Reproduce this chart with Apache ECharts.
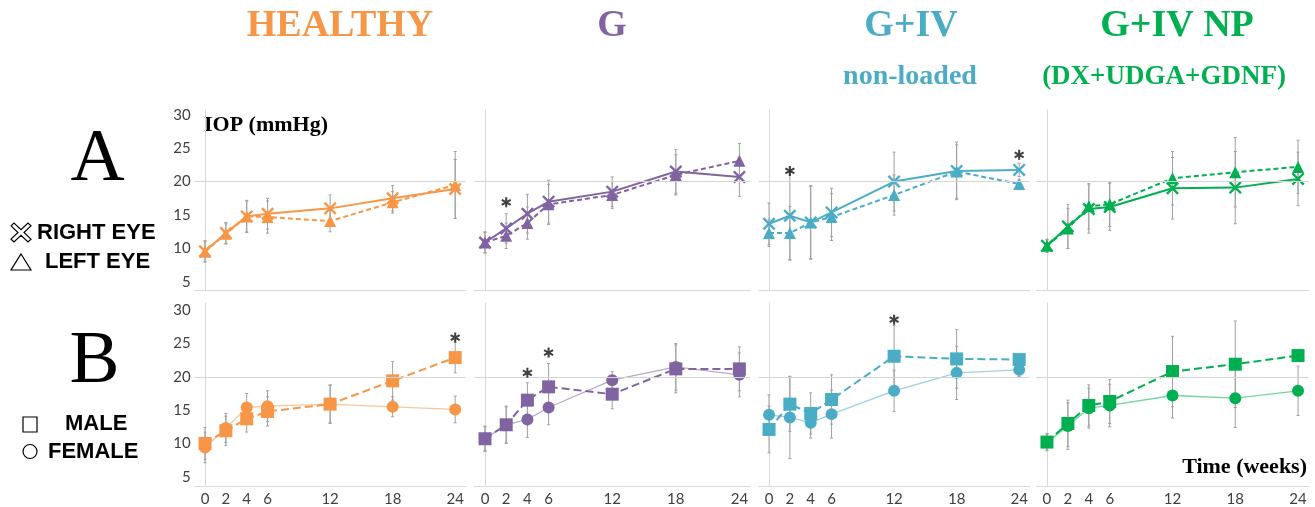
<!DOCTYPE html>
<html>
<head>
<meta charset="utf-8">
<script src="https://cdn.jsdelivr.net/npm/echarts@6/dist/echarts.min.js"></script>
<style>
  html, body { margin: 0; padding: 0; background: #fff; }
  #chart { width: 1315px; height: 507px; }
</style>
</head>
<body>
<div id="chart"></div>
<script>
// ---------------- DATA ----------------
const weeks = [0, 2, 4, 6, 12, 18, 24];
const yTickValues = [5, 10, 15, 20, 25, 30];
const groupNames = ['HEALTHY', 'G', 'G+IV', 'G+IV NP'];
const threshold = 20;

// Row A: right eye (X, solid) / left eye (triangle, dashed)
const healthyRight   = [9.6, 12.3, 14.8, 15.2, 16.0, 17.5, 18.9];
const healthyRightSD = [1.6, 1.6, 2.4, 2.3, 2.0, 1.9, 4.4];
const healthyLeft    = [9.5, 12.2, 14.8, 14.7, 14.1, 16.9, 19.5];
const healthyLeftSD  = [1.5, 1.5, 2.3, 2.4, 1.6, 1.6, 5.0];

const gRight   = [10.9, 13.0, 15.2, 17.0, 18.5, 21.5, 20.7];
const gRightSD = [1.6, 2.2, 2.9, 3.2, 2.2, 3.3, 2.9];
const gLeft    = [10.9, 11.9, 13.8, 16.6, 18.0, 21.0, 23.1];
const gLeftSD  = [1.5, 1.9, 2.4, 3.0, 2.0, 3.0, 2.6];

const givRight   = [13.7, 14.9, 13.9, 15.4, 20.0, 21.6, 21.75];
const givRightSD = [3.1, 6.6, 5.5, 3.6, 4.4, 4.3, 1.0];
const givLeft    = [12.3, 12.3, 13.9, 14.7, 18.0, 21.5, 19.65];
const givLeftSD  = [2.0, 4.0, 5.4, 3.5, 3.0, 4.0, 0.7];

const gnpRight   = [10.4, 13.3, 15.9, 16.2, 19.0, 19.1, 20.4];
const gnpRightSD = [1.0, 3.3, 3.6, 3.5, 4.6, 5.4, 4.0];
const gnpLeft    = [10.4, 13.0, 16.3, 16.6, 20.5, 21.4, 22.2];
const gnpLeftSD  = [0.9, 3.0, 3.4, 3.3, 4.0, 5.2, 4.0];

// Row B: male (square, dashed) / female (circle, solid)
const healthyMale     = [10.0, 11.9, 13.7, 14.8, 15.9, 19.4, 22.9];
const healthyMaleSD   = [2.4, 2.2, 2.0, 2.2, 2.9, 2.9, 2.3];
const healthyFemale   = [9.4, 12.3, 15.4, 15.6, 15.9, 15.5, 15.1];
const healthyFemaleSD = [2.3, 2.2, 2.1, 2.3, 2.8, 1.5, 2.0];

const gMale     = [10.7, 12.8, 16.5, 18.5, 17.4, 21.2, 21.2];
const gMaleSD   = [1.9, 2.7, 2.6, 3.5, 2.2, 3.6, 3.3];
const gFemale   = [10.7, 12.8, 13.6, 15.4, 19.5, 21.5, 20.3];
const gFemaleSD = [1.8, 2.8, 2.7, 2.6, 1.3, 3.5, 3.3];

const givMale     = [12.1, 15.9, 14.5, 16.6, 23.1, 22.7, 22.6];
const givMaleSD   = [3.5, 4.1, 3.1, 3.7, 4.6, 4.4, 0.5];
const givFemale   = [14.3, 13.9, 13.1, 14.4, 17.9, 20.6, 21.05];
const givFemaleSD = [3.0, 6.2, 2.3, 3.6, 3.1, 4.0, 1.0];

const gnpMale     = [10.2, 13.0, 15.7, 16.3, 20.8, 21.9, 23.2];
const gnpMaleSD   = [1.3, 3.5, 3.1, 3.3, 5.3, 6.5, 0.8];
const gnpFemale   = [10.2, 12.6, 15.3, 15.7, 17.2, 16.8, 17.9];
const gnpFemaleSD = [1.2, 3.5, 3.0, 3.2, 3.4, 4.4, 3.7];

// significance asterisks [week, IOP]
const starsHealthyA = [];
const starsGA       = [[2, 16.9]];
const starsGivA     = [[2, 21.6], [24, 24.0]];
const starsGnpA     = [];
const starsHealthyB = [[24, 25.9]];
const starsGB       = [[4, 20.6], [6, 23.65]];
const starsGivB     = [[12, 28.6]];
const starsGnpB     = [];

// ---------------- STYLE / LAYOUT ----------------
const groupColors = ['#F79646', '#8064A2', '#4BACC6', '#00B050'];
const cols = [
  { left: 194.6, width: 271 },
  { left: 474.4, width: 275.6 },
  { left: 758.6, width: 271 },
  { left: 1036.5, width: 272 }
];
const rows = [
  { top: 110, height: 180, min: 3.8, max: 30.7 },
  { top: 303, height: 183, min: 3.6, max: 31.1 }
];
const X_PATH = 'path://M0,1.3 L1.3,0 L5,3.7 L8.7,0 L10,1.3 L6.3,5 L10,8.7 L8.7,10 L5,6.3 L1.3,10 L0,8.7 L3.7,5 Z';
const STAR_PATH = 'path://M4,0 L6,0 L6,10 L4,10 Z M1.17,1.63 L9.83,6.63 L8.83,8.37 L0.17,3.37 Z M0.17,6.63 L8.83,1.63 L9.83,3.37 L1.17,8.37 Z';

const panels = [
  { row: 0, col: 0, solid: [healthyRight, healthyRightSD], dashed: [healthyLeft, healthyLeftSD], stars: starsHealthyA },
  { row: 0, col: 1, solid: [gRight, gRightSD], dashed: [gLeft, gLeftSD], stars: starsGA },
  { row: 0, col: 2, solid: [givRight, givRightSD], dashed: [givLeft, givLeftSD], stars: starsGivA },
  { row: 0, col: 3, solid: [gnpRight, gnpRightSD], dashed: [gnpLeft, gnpLeftSD], stars: starsGnpA },
  { row: 1, col: 0, solid: [healthyFemale, healthyFemaleSD], dashed: [healthyMale, healthyMaleSD], stars: starsHealthyB },
  { row: 1, col: 1, solid: [gFemale, gFemaleSD], dashed: [gMale, gMaleSD], stars: starsGB },
  { row: 1, col: 2, solid: [givFemale, givFemaleSD], dashed: [givMale, givMaleSD], stars: starsGivB },
  { row: 1, col: 3, solid: [gnpFemale, gnpFemaleSD], dashed: [gnpMale, gnpMaleSD], stars: starsGnpB }
];

const grid = [], xAxis = [], yAxis = [], series = [];

function errorRender(params, api) {
  const x = api.value(0), m = api.value(1), s = api.value(2);
  const t = api.coord([x, m + s]);
  const b = api.coord([x, m - s]);
  const st = { stroke: '#a0a0a0', lineWidth: 1 };
  return {
    type: 'group',
    children: [
      { type: 'line', shape: { x1: t[0], y1: t[1], x2: b[0], y2: b[1] }, style: st },
      { type: 'line', shape: { x1: t[0] - 1.5, y1: t[1], x2: t[0] + 1.5, y2: t[1] }, style: st },
      { type: 'line', shape: { x1: b[0] - 1.5, y1: b[1], x2: b[0] + 1.5, y2: b[1] }, style: st }
    ]
  };
}

panels.forEach((p, i) => {
  const c = cols[p.col], r = rows[p.row];
  const color = groupColors[p.col];
  grid.push({ left: c.left, width: c.width, top: r.top, height: r.height, outerBoundsMode: 'none' });
  xAxis.push({
    type: 'value', gridIndex: i, min: -1, max: 25,
    splitLine: { show: false },
    axisTick: { show: false },
    axisLine: { show: true, lineStyle: { color: '#d9d9d9', width: 1 } },
    axisLabel: {
      show: p.row === 1, customValues: weeks, margin: 6,
      fontFamily: 'Lato', fontSize: 15, color: '#404040'
    }
  });
  yAxis.push({
    type: 'value', gridIndex: i, min: r.min, max: r.max,
    splitLine: { show: false },
    axisTick: { show: false },
    axisLine: { show: true, lineStyle: { color: '#d9d9d9', width: 1 } },
    axisLabel: {
      show: p.col === 0, customValues: yTickValues, margin: 4,
      fontFamily: 'Lato', fontSize: 15, color: '#404040'
    }
  });
  const top = p.row === 0;
  const mkData = arr => weeks.map((w, k) => [w, arr[k]]);
  const mkErr = (m, s) => weeks.map((w, k) => [w, m[k], s[k]]);
  // error bars
  [p.solid, p.dashed].forEach(d => {
    series.push({
      type: 'custom', xAxisIndex: i, yAxisIndex: i, z: 1, silent: true,
      renderItem: errorRender, data: mkErr(d[0], d[1]),
      encode: { x: 0, y: 1 }
    });
  });
  // dashed series
  series.push({
    type: 'line', xAxisIndex: i, yAxisIndex: i, z: 3,
    data: mkData(p.dashed[0]),
    symbol: top ? 'triangle' : 'rect',
    symbolSize: top ? 12 : 13,
    itemStyle: { color: color },
    lineStyle: { color: color, width: 2, type: top ? [5, 3] : [8, 4] },
    markLine: {
      silent: true, symbol: ['none', 'none'], label: { show: false },
      lineStyle: { color: '#d4d4d4', width: 1, type: 'solid' },
      data: [{ yAxis: threshold }]
    }
  });
  // solid series
  series.push({
    type: 'line', xAxisIndex: i, yAxisIndex: i, z: 4,
    data: mkData(p.solid[0]),
    symbol: top ? X_PATH : 'circle',
    symbolSize: top ? 13 : 12,
    itemStyle: { color: color },
    lineStyle: top ? { color: color, width: 2 } : { color: color, width: 1.3, opacity: 0.55 }
  });
  if (p.stars.length) {
    series.push({
      type: 'scatter', xAxisIndex: i, yAxisIndex: i, z: 5,
      data: p.stars, symbol: STAR_PATH, symbolSize: 10,
      itemStyle: { color: '#111' }
    });
  }
});

// ---------------- TEXT / LEGEND GRAPHICS ----------------
const serifB = (s) => 'bold ' + s + 'px "Liberation Serif", "DejaVu Serif", serif';
const sansB = (s) => 'bold ' + s + 'px "Liberation Sans", Arial, sans-serif';
function txt(text, x, y, font, color, align) {
  return { type: 'text', x: x, y: y, silent: true,
    style: { text: text, font: font, fill: color, textAlign: align || 'center', textVerticalAlign: 'middle' } };
}
const titleX = [340, 612, 911, 1177];
const graphic = [];
groupNames.forEach((g, i) => graphic.push(txt(g, titleX[i], 26.5, serifB(38), groupColors[i])));
graphic.push(txt('non-loaded', 910, 76.5, serifB(28), groupColors[2]));
graphic.push(txt('(DX+UDGA+GDNF)', 1164, 77, serifB(27), groupColors[3]));
graphic.push(txt('IOP (mmHg)', 204, 125.5, serifB(22), '#000', 'left'));
graphic.push(txt('Time (weeks)', 1307, 467, serifB(22), '#000', 'right'));
graphic.push(txt('A', 97.5, 160, 'normal 75px "Liberation Serif", serif', '#000'));
graphic.push(txt('B', 94.5, 362, 'normal 75px "Liberation Serif", serif', '#000'));
graphic.push(txt('RIGHT EYE', 37, 232.5, sansB(22), '#000', 'left'));
graphic.push(txt('LEFT EYE', 45, 262, sansB(22), '#000', 'left'));
graphic.push(txt('MALE', 65, 423.5, sansB(22), '#000', 'left'));
graphic.push(txt('FEMALE', 48, 451.5, sansB(22), '#000', 'left'));
// legend icons
const xPts = [[0,1.5],[1.5,0],[5,3.5],[8.5,0],[10,1.5],[6.5,5],[10,8.5],[8.5,10],[5,6.5],[1.5,10],[0,8.5],[3.5,5]]
  .map(q => [11 + q[0] * 2, 223 + q[1] * 1.9]);
const iconStyle = { fill: '#fff', stroke: '#000', lineWidth: 1.2 };
graphic.push({ type: 'polygon', silent: true, shape: { points: xPts }, style: iconStyle });
graphic.push({ type: 'polygon', silent: true, shape: { points: [[21, 254], [31, 270], [11, 270]] }, style: iconStyle });
graphic.push({ type: 'rect', silent: true, shape: { x: 23, y: 417, width: 14, height: 15 }, style: iconStyle });
graphic.push({ type: 'circle', silent: true, shape: { cx: 30, cy: 451.5, r: 7 }, style: iconStyle });

const chart = echarts.init(document.getElementById('chart'), null, { renderer: 'canvas' });
chart.setOption({
  animation: false,
  backgroundColor: '#fff',
  grid: grid, xAxis: xAxis, yAxis: yAxis, series: series, graphic: graphic
});
</script>
</body>
</html>
